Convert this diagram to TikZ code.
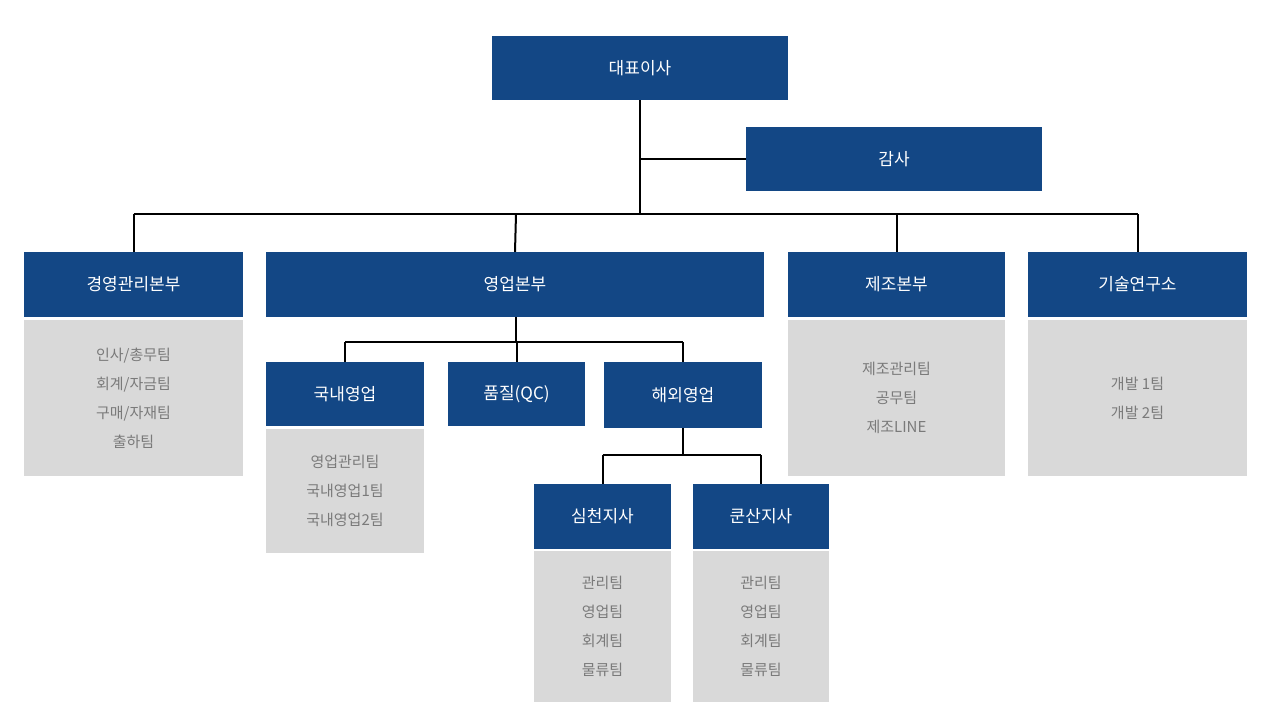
\documentclass[tikz,border=0pt]{standalone}
\usepackage{fontspec}
\setmainfont{Noto Sans CJK KR}
\definecolor{navy}{HTML}{134785}
\definecolor{lgray}{HTML}{D9D9D9}
\definecolor{dgray}{HTML}{7A7A7A}
\begin{document}
\begin{tikzpicture}[x=1pt,y=-1pt,
  head/.style = {fill=navy, text=white, inner sep=0pt, font=\fontsize{17}{20}\selectfont},
  team/.style = {fill=lgray, text=dgray, inner sep=0pt, align=center, font=\fontsize{15}{29}\selectfont},
  line/.style = {draw=black, line width=2pt}]
\useasboundingbox (0,0) rectangle (1280,720);
% top
\node[head, minimum width=296, minimum height=64] (ceo) at (640,68) {대표이사};
\node[head, minimum width=296, minimum height=64] (audit) at (894,159) {감사};
% divisions
\node[head, minimum width=219, minimum height=65] (mgmt) at (133.5,284.5) {경영관리본부};
\node[head, minimum width=498, minimum height=65] (sales) at (515,284.5) {영업본부};
\node[head, minimum width=217, minimum height=65] (prod) at (896.5,284.5) {제조본부};
\node[head, minimum width=219, minimum height=65] (lab) at (1137.5,284.5) {기술연구소};
\node[team, minimum width=219, minimum height=156] (mgmtT) at (133.5,398) {인사/총무팀\\회계/자금팀\\구매/자재팀\\출하팀};
\node[team, minimum width=217, minimum height=156] (prodT) at (896.5,398) {제조관리팀\\공무팀\\제조LINE};
\node[team, minimum width=219, minimum height=156] (labT) at (1137.5,398) {개발 1팀\\개발 2팀};
% sales
\node[head, minimum width=158, minimum height=64] (dom) at (345,394) {국내영업};
\node[head, minimum width=137, minimum height=64] (qc) at (516.5,394) {품질(QC)};
\node[head, minimum width=158, minimum height=66] (ovs) at (683,395) {해외영업};
\node[team, minimum width=158, minimum height=124] (domT) at (345,491) {영업관리팀\\국내영업1팀\\국내영업2팀};
% branches
\node[head, minimum width=137, minimum height=65] (sz) at (602.5,516.5) {심천지사};
\node[head, minimum width=136, minimum height=65] (ks) at (761,516.5) {쿤산지사};
\node[team, minimum width=137, minimum height=151] (szT) at (602.5,626.5) {관리팀\\영업팀\\회계팀\\물류팀};
\node[team, minimum width=136, minimum height=151] (ksT) at (761,626.5) {관리팀\\영업팀\\회계팀\\물류팀};
% connectors
\coordinate (bus) at (640,214);
\coordinate (sbus) at (516,342);
\coordinate (obus) at (683,455);
\draw[line] (ceo) -- (bus);
\draw[line] (ceo |- audit) -- (audit);
\draw[line] (bus -| mgmt) -- (bus -| lab);
\foreach \n in {mgmt,prod,lab} \draw[line] (bus -| \n) -- (\n.north);
\draw[line] (bus -| sbus) -- (sales.north);
\draw[line] (sales.south -| sbus) -- (sbus);
\draw[line] (sbus -| dom) -- (sbus -| ovs);
\foreach \n in {dom,qc,ovs} \draw[line] (sbus -| \n) -- (\n.north);
\draw[line] (ovs) -- (obus);
\draw[line] (obus -| sz) -- (obus -| ks);
\foreach \n in {sz,ks} \draw[line] (obus -| \n) -- (\n.north);
\end{tikzpicture}
\end{document}
